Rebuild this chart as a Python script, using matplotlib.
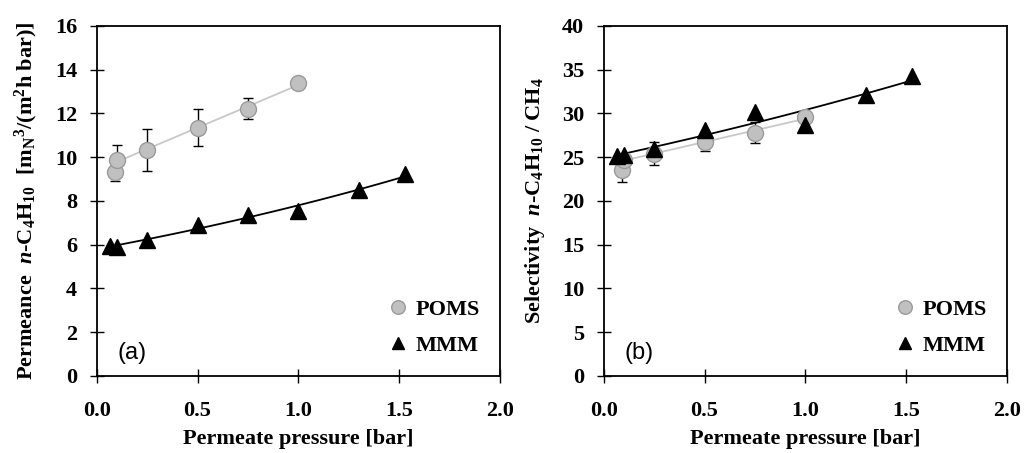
import numpy as np
import matplotlib
matplotlib.use("Agg")
import matplotlib.pyplot as plt

plt.rcParams["font.family"] = "Liberation Serif"
plt.rcParams["font.weight"] = "bold"
plt.rcParams["axes.labelweight"] = "bold"
plt.rcParams["mathtext.fontset"] = "custom"
plt.rcParams["mathtext.rm"] = "Liberation Serif:bold"
plt.rcParams["mathtext.it"] = "Liberation Serif:italic:bold"
plt.rcParams["mathtext.bf"] = "Liberation Serif:bold"

# permeate pressure [bar]
x_poms = [0.09, 0.10, 0.25, 0.50, 0.75, 1.00]
x_mmm = [0.065, 0.10, 0.25, 0.50, 0.75, 1.00, 1.30, 1.53]

# (a) permeance n-C4H10
perm_poms = [9.34, 9.85, 10.33, 11.34, 12.22, 13.38]
perm_poms_err = [0.45, 0.70, 0.97, 0.84, 0.47, 0.0]
perm_mmm = [5.95, 5.90, 6.20, 6.90, 7.36, 7.52, 8.48, 9.25]

# (b) selectivity n-C4H10 / CH4
sel_poms = [23.5, 24.7, 25.4, 26.7, 27.8, 29.6]
sel_poms_err = [1.35, 0.0, 1.3, 1.0, 1.2, 0.0]
sel_mmm = [25.1, 25.3, 25.9, 28.1, 30.2, 28.7, 32.1, 34.3]

ylabels = [r"Permeance  $\mathit{n}$-C$_4$H$_{10}$  [m$_{\mathrm{N}}$$^3$/(m$^2$h bar)]",
           r"Selectivity  $\mathit{n}$-C$_4$H$_{10}$ / CH$_4$"]
panel_tags = ["(a)", "(b)"]

fig = plt.figure(figsize=(10.24, 4.53), dpi=100)
ax1 = fig.add_axes([0.0944, 0.170, 0.394, 0.773])
ax2 = fig.add_axes([0.5895, 0.170, 0.394, 0.773])

datasets = [(ax1, perm_poms, perm_poms_err, perm_mmm, 16, 2, 1.05),
            (ax2, sel_poms, sel_poms_err, sel_mmm, 40, 5, 2.6)]

for i, (ax, yp, ep, ym, ymax, ystep, tag_y) in enumerate(datasets):
    xp = np.array(x_poms)
    xm = np.array(x_mmm)
    yp = np.array(yp)
    ym = np.array(ym)
    # linear trendline for POMS (from 0.1 bar on), exponential for MMM
    sel = xp >= 0.1
    c = np.polyfit(xp[sel], yp[sel], 1)
    xl = np.linspace(0.1, 1.0, 50)
    ax.plot(xl, np.polyval(c, xl), color="#c8c8c8", lw=1.3, zorder=1)
    ce = np.polyfit(xm, np.log(ym), 1)
    xe = np.linspace(xm.min(), xm.max(), 100)
    ax.plot(xe, np.exp(np.polyval(ce, xe)), color="black", lw=1.3, zorder=1)

    err = np.array(ep)
    ax.errorbar(xp[err > 0], yp[err > 0], yerr=err[err > 0], fmt="none",
                ecolor="black", elinewidth=1, capsize=3.5, capthick=1, zorder=2)
    ax.plot(xp, yp, "o", ms=11.5, mfc="#c0c0c0", mec="#9a9a9a", mew=1,
            ls="none", zorder=3, label="POMS")
    ax.plot(xm, ym, "^", ms=11, color="black", ls="none", zorder=4, label="MMM")

    ax.set_xlim(0, 2)
    ax.set_ylim(0, ymax)
    ax.set_xticks(np.arange(0, 2.01, 0.5))
    ax.set_yticks(np.arange(0, ymax + 0.1, ystep))
    ax.set_xticklabels(["%.1f" % v for v in np.arange(0, 2.01, 0.5)])
    ax.tick_params(direction="inout", length=10, width=1, labelsize=16)
    ax.tick_params(axis="x", pad=13)
    ax.tick_params(axis="y", pad=9)
    for s in ax.spines.values():
        s.set_linewidth(1.3)
    ax.set_xlabel("Permeate pressure [bar]", fontsize=16, labelpad=6)
    ax.set_ylabel(ylabels[i], fontsize=16, labelpad=11)
    ax.text(0.175, tag_y, panel_tags[i], fontsize=17, fontweight="normal",
            family="Liberation Sans", ha="center", va="center")
    ax.legend(loc="lower right", bbox_to_anchor=(1.0, 0.0), frameon=False,
              fontsize=16, handletextpad=0.2, labelspacing=0.7, markerscale=0.85,
              handlelength=1.2)

fig.savefig("out.png", dpi=100)
